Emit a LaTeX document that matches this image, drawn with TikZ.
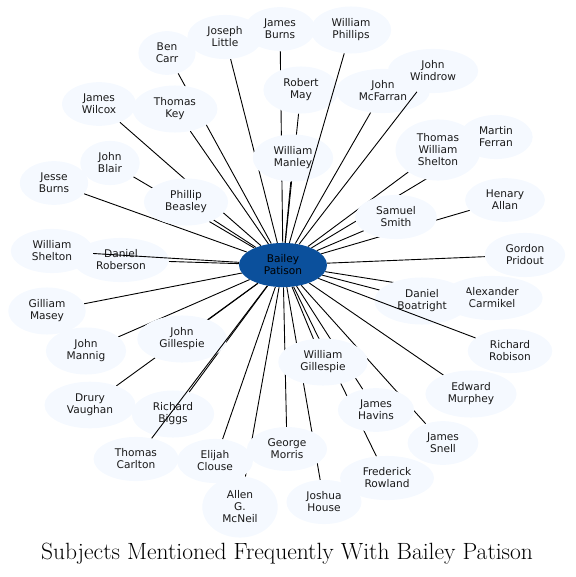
\documentclass[tikz,border=0pt]{standalone}
\usepackage{fontspec}
\usepackage{xcolor}
\usepackage{tikz}
\usetikzlibrary{shapes.geometric}
\newfontfamily\namefont{DejaVu Sans}
\definecolor{hub}{RGB}{11,80,156}
\definecolor{leaf}{RGB}{245,249,255}
\pgfdeclarelayer{back}
\pgfsetlayers{back,main}

\begin{document}
\begin{tikzpicture}[x=1pt,y=-1pt,
    person/.style={ellipse,fill=leaf,align=center,inner xsep=9pt,inner ysep=5.5pt,
      font=\namefont\fontsize{10.6}{12}\selectfont,text=black!90},
    link/.style={line width=0.9pt}]
  \useasboundingbox (0,0) rectangle (575,577);

  % centre of the star
  \node[person,fill=hub,text=black,inner xsep=12pt] (patison) at (283,265) {Bailey\\Patison};

  % top
  \node[person] (jburns)   at (280,29)  {James\\Burns};
  \node[person] (phillips) at (351,30)  {William\\Phillips};
  \node[person] (little)   at (225,37)  {Joseph\\Little};
  \node[person] (carr)     at (167,53)  {Ben\\Carr};
  \node[person] (may)      at (301,90)  {Robert\\May};
  \node[person] (mcfarran) at (383,91)  {John\\McFarran};
  \node[person] (windrow)  at (433,71)  {John\\Windrow};
  \node[person] (wilcox)   at (99,104)  {James\\Wilcox};
  \node[person] (key)      at (175,109) {Thomas\\Key};
  \node[person] (ferran)   at (496,137) {Martin\\Ferran};
  \node[person] (twshelton) at (438,150) {Thomas\\William\\Shelton};
  \node[person] (manley)   at (293,158) {William\\Manley};
  \node[person] (blair)    at (110,163) {John\\Blair};
  \node[person] (jesse)    at (54,183)  {Jesse\\Burns};
  \node[person] (beasley)  at (186,202) {Phillip\\Beasley};
  \node[person] (allan)    at (505,200) {Henary\\Allan};
  \node[person] (smith)    at (396,217) {Samuel\\Smith};

  % middle
  \node[person] (wshelton) at (52,251)  {William\\Shelton};
  \node[person] (roberson) at (121,260) {Daniel\\Roberson};
  \node[person] (pridout)  at (525,255) {Gordon\\Pridout};
  \node[person] (masey)    at (47,311)  {Gilliam\\Masey};
  \node[person] (carmikel) at (492,298) {Alexander\\Carmikel};
  \node[person] (boatright) at (422,301) {Daniel\\Boatright};
  \node[person] (robison)  at (510,351) {Richard\\Robison};
  \node[person] (mannig)   at (86,351)  {John\\Mannig};
  \node[person] (jgillespie) at (182,339) {John\\Gillespie};
  \node[person] (wgillespie) at (323,362) {William\\Gillespie};

  % bottom
  \node[person] (murphey)  at (471,394) {Edward\\Murphey};
  \node[person] (vaughan)  at (90,405)  {Drury\\Vaughan};
  \node[person] (biggs)    at (173,414) {Richard\\Biggs};
  \node[person] (havins)   at (376,410) {James\\Havins};
  \node[person] (snell)    at (443,443) {James\\Snell};
  \node[person] (carlton)  at (136,459) {Thomas\\Carlton};
  \node[person] (clouse)   at (215,461) {Elijah\\Clouse};
  \node[person] (mcneil)   at (240,507) {Allen\\G.\\McNeil};
  \node[person] (morris)   at (287,449) {George\\Morris};
  \node[person] (rowland)  at (387,478) {Frederick\\Rowland};
  \node[person] (house)    at (324,502) {Joshua\\House};

  % links that run under the other names
  \begin{pgfonlayer}{back}
    \foreach \n in {carr,little,jburns,may,ferran,allan,carmikel,jesse,blair,wilcox,
        vaughan,rowland,house,morris,mcneil,key,manley,mcfarran,twshelton,smith,
        pridout,boatright,murphey,snell,havins,wgillespie,clouse,biggs,jgillespie,
        mannig,masey,roberson,beasley}
      \draw[link] (patison) -- (\n);
  \end{pgfonlayer}
  % links drawn over them
  \foreach \n in {windrow,phillips,wshelton,carlton,robison}
    \draw[link] (patison) -- (\n);

  \node (title) at (287,554) {\fontsize{23.5}{27}\selectfont Subjects Mentioned Frequently With Bailey Patison};
\end{tikzpicture}
\end{document}
